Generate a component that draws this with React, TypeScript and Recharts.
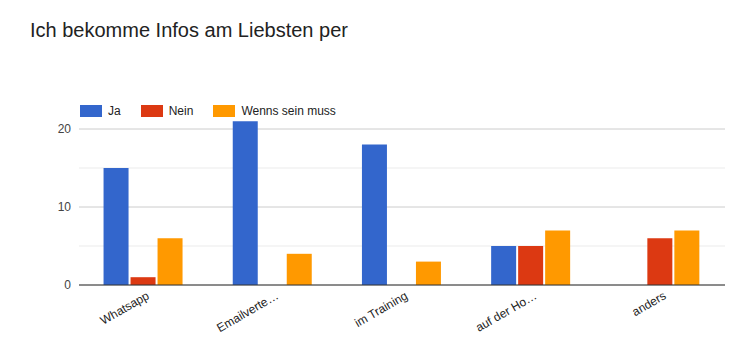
import {
  BarChart,
  Bar,
  XAxis,
  YAxis,
  CartesianGrid,
} from 'recharts';

const categories = ['Whatsapp', 'Emailverte…', 'im Training', 'auf der Ho…', 'anders'];
const ja = [15, 21, 18, 5, 0];
const nein = [1, 0, 0, 5, 6];
const wennsSeinMuss = [6, 4, 3, 7, 7];
const yTicks = [0, 10, 20];
const minorTicks = [5, 15];
const yDomain = [0, 25];

const seriesInfo = [
  { key: 'ja', name: 'Ja', color: '#3366cc' },
  { key: 'nein', name: 'Nein', color: '#dc3912' },
  { key: 'wenns', name: 'Wenns sein muss', color: '#ff9900' },
];

const data = categories.map((c, i) => ({
  name: c,
  ja: ja[i],
  nein: nein[i],
  wenns: wennsSeinMuss[i],
}));

const font = 'Arial, "Liberation Sans", sans-serif';

function AngledTick({ x, y, payload }: { x?: number; y?: number; payload?: { value: string } }) {
  return (
    <g transform={`translate(${(x ?? 0) + 3},${(y ?? 0) - 1})`}>
      <text
        x={0}
        y={0}
        dy={7}
        textAnchor="end"
        transform="rotate(-30)"
        fill="#222"
        fontSize={12}
        fontFamily={font}
      >
        {payload?.value}
      </text>
    </g>
  );
}

function LegendBox() {
  return (
    <div
      style={{
        position: 'absolute',
        left: 80,
        top: 104,
        display: 'flex',
        alignItems: 'center',
        fontFamily: font,
        fontSize: 12,
        color: '#222',
      }}
    >
      {seriesInfo.map((s) => (
        <div key={s.key} style={{ display: 'flex', alignItems: 'center', marginRight: 20 }}>
          <span style={{ display: 'inline-block', width: 22, height: 12, background: s.color, marginRight: 6 }} />
          <span>{s.name}</span>
        </div>
      ))}
    </div>
  );
}

// grid lines only at the wanted values, mapped through the y scale
const gridAt = (values: number[]) => (props: any) => {
  const scale = props.yAxis?.scale;
  const toY = (v: number): number => {
    if (typeof scale === 'function') return scale(v);
    if (scale && typeof scale.map === 'function') return scale.map(v);
    const { top, height } = props.offset;
    return top + height * (1 - (v - yDomain[0]) / (yDomain[1] - yDomain[0]));
  };
  return values.map(toY);
};

export default function App() {
  return (
    <div style={{ position: 'absolute', left: 0, top: 0, width: 756, height: 356, background: '#fff' }}>
      <div
        style={{
          position: 'absolute',
          left: 30,
          top: 19,
          fontFamily: font,
          fontSize: 20,
          color: '#222',
        }}
      >
        Ich bekomme Infos am Liebsten per
      </div>
      <BarChart
        width={756}
        height={356}
        data={data}
        margin={{ top: 90, right: 31, left: 39, bottom: 11 }}
        barCategoryGap="19%"
        barGap={2}
      >
        <CartesianGrid
          vertical={false}
          stroke="#ebebeb"
          horizontalCoordinatesGenerator={gridAt(minorTicks)}
        />
        <CartesianGrid
          vertical={false}
          stroke="#cccccc"
          horizontalCoordinatesGenerator={gridAt(yTicks)}
        />
        <XAxis
          dataKey="name"
          tick={<AngledTick />}
          tickLine={false}
          axisLine={{ stroke: '#333', strokeWidth: 1 }}
          interval={0}
          height={60}
        />
        <YAxis
          domain={yDomain}
          ticks={yTicks}
          width={40}
          axisLine={false}
          tickLine={false}
          tick={{ fill: '#444', fontSize: 12, fontFamily: font }}
        />
        {seriesInfo.map((s) => (
          <Bar key={s.key} dataKey={s.key} name={s.name} fill={s.color} isAnimationActive={false} />
        ))}
      </BarChart>
      <LegendBox />
    </div>
  );
}
